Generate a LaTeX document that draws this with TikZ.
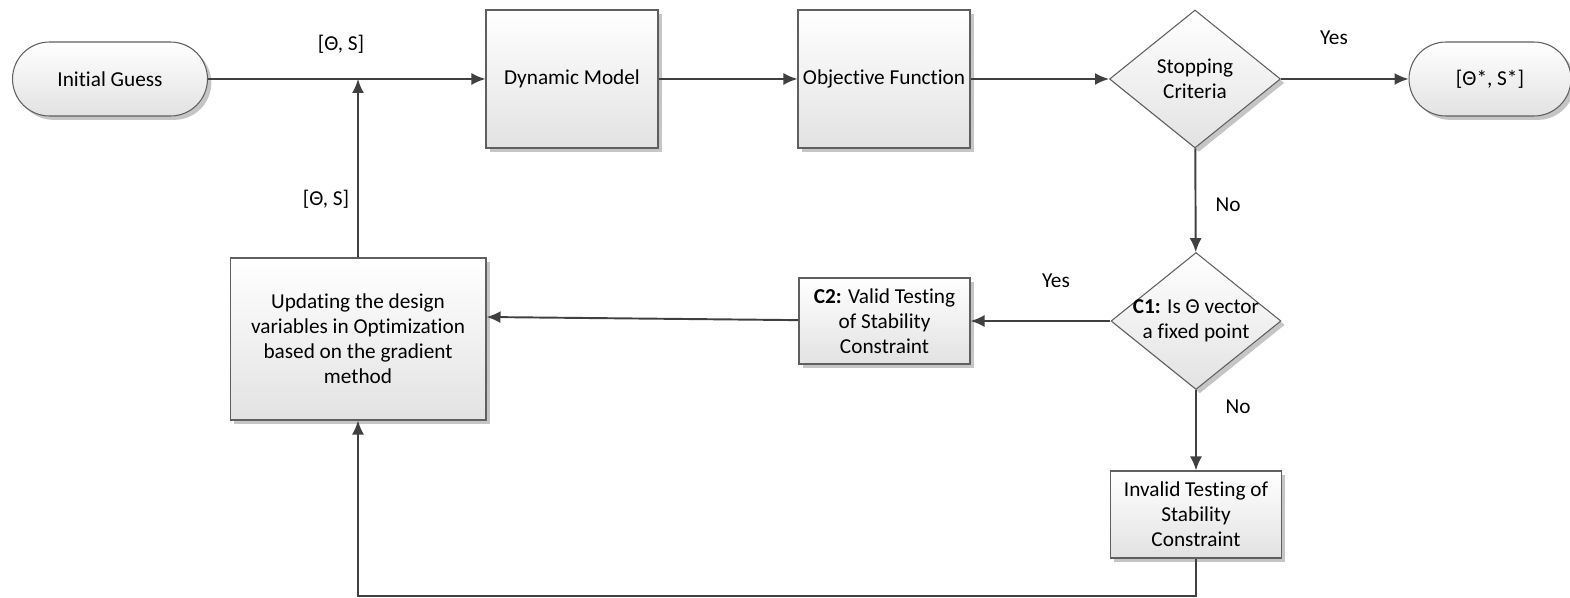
\documentclass[tikz,border=0pt]{standalone}
\usepackage{fontspec}
\setmainfont{Carlito}[Ligatures=NoCommon]
\usetikzlibrary{shapes.geometric,arrows.meta,shadows}
\begin{document}
\begin{tikzpicture}[x=0.02cm, y=-0.02cm,
    font=\fontsize{12.1}{14.2}\selectfont,
    blockbox/.style={draw=myedge, line width=0.6pt, top color=white, bottom color=myfill,
        drop shadow={shadow xshift=2.2pt, shadow yshift=-2.2pt, fill=black!45, opacity=0.5},
        align=center, inner sep=2pt},
    pillbox/.style={blockbox, rounded corners=0.74cm, minimum height=1.48cm},
    decision/.style={blockbox, diamond, minimum width=3.42cm, minimum height=2.76cm, inner sep=0pt},
    flow/.style={-{Latex[length=0.28cm,width=0.24cm]}, line width=1.1pt, draw=myarrow},
    tag/.style={inner sep=0pt}]
    \definecolor{myedge}{RGB}{95,95,95}
    \definecolor{myfill}{RGB}{226,226,226}
    \definecolor{myarrow}{RGB}{64,64,64}

    \useasboundingbox (0,0) rectangle (1570,598);

    % top row
    \node[pillbox, minimum width=3.9cm] (init) at (110,79) {Initial Guess};
    \node[blockbox, minimum width=3.44cm, minimum height=2.76cm] (dyn) at (572,79) {Dynamic Model};
    \node[blockbox, minimum width=3.44cm, minimum height=2.76cm] (obj) at (884,79) {Objective Function};
    \node[decision, label={[align=center]center:Stopping\\Criteria}] (stop) at (1195,79) {};
    \node[pillbox, minimum width=3.24cm] (out) at (1490,79) {[Θ*, S*]};

    % lower part
    \node[decision, minimum width=3.4cm, minimum height=2.74cm,
        label={[align=center]center:\textbf{C1:} Is Θ vector\\a fixed point}] (c1) at (1196,321) {};
    \node[blockbox, minimum width=3.42cm, minimum height=1.72cm] (c2) at (884.5,321)
        {\textbf{C2:} Valid Testing\\of Stability\\Constraint};
    \node[blockbox, minimum width=5.12cm, minimum height=3.24cm] (upd) at (358,339)
        {Updating the design\\variables in Optimization\\based on the gradient\\method};
    \node[blockbox, minimum width=3.42cm, minimum height=1.74cm] (inv) at (1196,514.5)
        {Invalid Testing of\\Stability\\Constraint};

    \coordinate (join) at (upd.north |- init.east);
    \coordinate (back) at (358,596);

    \draw[flow] (init) -- (dyn);
    \draw[flow] (dyn) -- (obj);
    \draw[flow] (obj) -- (stop);
    \draw[flow] (stop) -- (out);
    \draw[flow] (stop) -- (c1);
    \draw[flow] (c1) -- (c2);
    \draw[flow] (c2) -- (upd.east |- 0,317);
    \draw[flow] (c1) -- (inv);
    \draw[flow] (upd) -- (join);
    \draw[flow] (inv.south) |- (back) -- (upd.south);

    \node[tag] (t1) at (341,44) {[Θ, S]};
    \node[tag] (t2) at (326,199) {[Θ, S]};
    \node[tag] (yes1) at (1334,38) {Yes};
    \node[tag] (no1) at (1228,205) {No};
    \node[tag] (yes2) at (1056,281) {Yes};
    \node[tag] (no2) at (1238,407) {No};
\end{tikzpicture}
\end{document}
